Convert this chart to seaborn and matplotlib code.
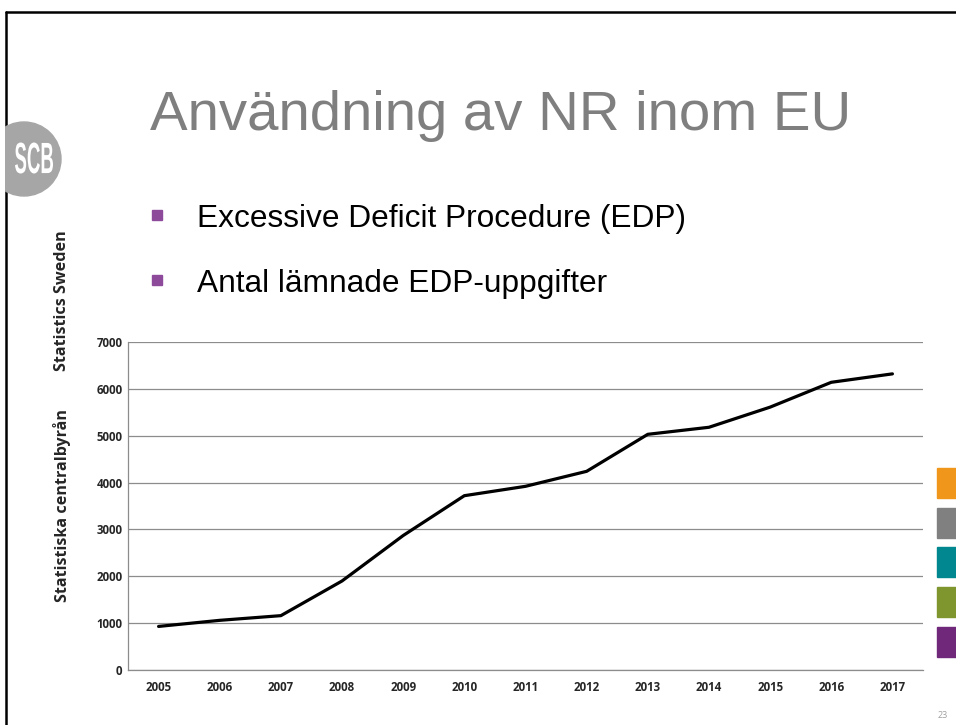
import matplotlib
matplotlib.use("Agg")
import matplotlib.pyplot as plt
from matplotlib.patches import Circle, Rectangle, PathPatch
from matplotlib.lines import Line2D
from matplotlib.textpath import TextPath
from matplotlib.font_manager import FontProperties
from matplotlib.transforms import Affine2D
import seaborn as sns
import pandas as pd

# data
years = ["2005", "2006", "2007", "2008", "2009", "2010", "2011",
         "2012", "2013", "2014", "2015", "2016", "2017"]
edp_counts = [930, 1060, 1160, 1900, 2870, 3720, 3920,
              4240, 5030, 5180, 5610, 6140, 6320]
y_ticks = [0, 1000, 2000, 3000, 4000, 5000, 6000, 7000]

title = "Användning av NR inom EU"
bullets = ["Excessive Deficit Procedure (EDP)", "Antal lämnade EDP-uppgifter"]
side_colors = ["#F0961B", "#808080", "#00878F", "#7F962F", "#70297A"]

df = pd.DataFrame({"year": years, "count": edp_counts})

sns.set_theme(style="white")
plt.rcParams['font.family'] = ['Open Sans', 'DejaVu Sans']

W, H = 956, 725
fig = plt.figure(figsize=(W / 100, H / 100), dpi=100)

# chart
ax = fig.add_axes([128 / W, 1 - 670 / H, (923 - 128) / W, (670 - 342) / H])
sns.lineplot(data=df, x="year", y="count", ax=ax, color="black",
             linewidth=2.3, sort=False)
ax.set_xlim(-0.5, len(years) - 0.5)
ax.set_ylim(0, 7000)
ax.set_yticks(y_ticks)
ax.set_yticklabels([str(v) for v in y_ticks], fontsize=8.3, fontweight="bold")
ax.set_xticks(range(len(years)))
ax.set_xticklabels(years, fontsize=8.3, fontweight="bold")
ax.set_xticks([i - 0.5 for i in range(len(years) + 1)], minor=True)
ax.tick_params(axis="x", which="major", length=0, pad=8)
ax.tick_params(axis="x", which="minor", length=4, width=0.9, color="#8c8c8c",
               direction="out")
ax.tick_params(axis="y", length=0, pad=4)
ax.set_xlabel("")
ax.set_ylabel("")
ax.yaxis.grid(True, color="#8c8c8c", linewidth=0.9)
ax.set_axisbelow(True)
for s in ["top", "right"]:
    ax.spines[s].set_visible(False)
for s in ["left", "bottom"]:
    ax.spines[s].set_color("#8c8c8c")
    ax.spines[s].set_linewidth(0.9)

# slide decoration, pixel coords from the top-left
ov = fig.add_axes([0, 0, 1, 1], zorder=5)
ov.set_xlim(0, W)
ov.set_ylim(H, 0)
ov.axis("off")
ov.patch.set_alpha(0)

# frame
ov.add_line(Line2D([6, W], [12, 12], color="black", linewidth=1.8, zorder=5))
ov.add_line(Line2D([6, 6], [12, H], color="black", linewidth=1.8, zorder=5))

# SCB logo, cut at the frame
logo = Circle((24, 159), 37, color="#a6a6a6", zorder=6)
ov.add_patch(logo)
clip = Rectangle((4.8, 0), W, H, transform=ov.transData)
logo.set_clip_path(clip)
tp = TextPath((0, 0), "SCB", size=40,
              prop=FontProperties(family="Liberation Sans", weight="bold"))
bb = tp.get_extents()
tr = Affine2D().translate(-bb.x0 - bb.width / 2, -bb.y0 - bb.height / 2) \
    .scale(38 / bb.width, -31 / bb.height).translate(34, 158)
ov.add_patch(PathPatch(tr.transform_path(tp), facecolor="white",
                       edgecolor="none", zorder=8))

ov.text(150, 130, title, fontsize=40.6, color="#7f7f7f",
        family=["Liberation Sans", "DejaVu Sans"], ha="left", va="baseline")

for i, b in enumerate(bullets):
    base = 227 + i * 65
    ov.add_patch(Rectangle((152, base - 17), 10, 10, color="#8E4A9A"))
    ov.text(197, base, b, fontsize=22.8, color="black",
            family=["Liberation Sans", "DejaVu Sans"], ha="left", va="baseline")

ov.text(62, 301, "Statistics Sweden", rotation=90, fontsize=11.6,
        fontweight="bold", ha="center", va="center")
ov.text(62, 505, "Statistiska centralbyrån", rotation=90, fontsize=11.6,
        fontweight="bold", ha="center", va="center")

for i, c in enumerate(side_colors):
    ov.add_patch(Rectangle((937, 468 + i * 39.7), 25, 30, color=c))

ov.text(938, 716, "23", fontsize=6.5, color="#a0a0a0", ha="left", va="center")

fig.savefig("out.png", dpi=100)
